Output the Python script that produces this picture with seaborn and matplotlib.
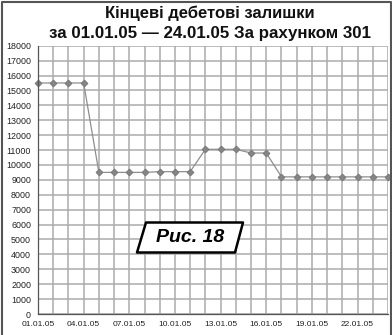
import matplotlib
matplotlib.use("Agg")
import matplotlib.pyplot as plt
from matplotlib.patches import Polygon
from matplotlib.lines import Line2D
import seaborn as sns
import pandas as pd

days = list(range(1, 25))
date_labels = [f"{d:02d}.01.05" for d in days]
balances = [15500, 15500, 15500, 15500,
            9500, 9500, 9500, 9500,
            9550, 9550, 9550,
            11050, 11050, 11050,
            10800, 10800,
            9200, 9200, 9200, 9200, 9200, 9200, 9200, 9200]
title_lines = ["Кінцеві дебетові залишки", "за 01.01.05 — 24.01.05 За рахунком 301"]
caption = "Рис. 18"

df = pd.DataFrame({"day": days, "balance": balances})

sns.set_theme(style="white")
plt.rcParams['font.family'] = ['Liberation Sans', 'DejaVu Sans']

W, H = 392, 335
fig = plt.figure(figsize=(W / 100, H / 100), dpi=100)
ax = fig.add_axes([38 / W, (H - 314) / H, (388 - 38) / W, (314 - 45.7) / H])

sns.lineplot(data=df, x="day", y="balance", ax=ax, color="#8e8e8e",
             linewidth=0.9, marker="D", markersize=3.4,
             markeredgecolor="#7a7a7a", markerfacecolor="#858585")
for l in ax.lines:
    l.set_clip_on(False)

ax.set_xlim(1, 24)
ax.set_ylim(0, 18000)
ax.set_xticks(days)
ax.set_xticklabels([lab if (i % 3 == 0) else "" for i, lab in enumerate(date_labels)],
                   fontsize=6.0, color="#222222")
ax.set_yticks(range(0, 18001, 1000))
ax.set_yticklabels([str(v) for v in range(0, 18001, 1000)], fontsize=6.4, color="#222222")
ax.tick_params(axis="both", direction="out", length=3.5, width=0.8, color="#555555", pad=1.5)
ax.tick_params(axis="x", length=3, pad=1.8)
ax.set_xlabel("")
ax.set_ylabel("")
ax.grid(True, color="#ababab", linewidth=1.1)
ax.set_axisbelow(True)
for s in ["top", "right"]:
    ax.spines[s].set_visible(False)
for s in ["left", "bottom"]:
    ax.spines[s].set_color("#555555")
    ax.spines[s].set_linewidth(0.9)

fig.text(210 / W, 1 - 13.5 / H, title_lines[0], ha="center", va="center",
         fontsize=12, fontweight="bold", color="#111111")
fig.text(210 / W, 1 - 33.5 / H, title_lines[1], ha="center", va="center",
         fontsize=12.2, fontweight="bold", color="#111111")

# figure border (left, top, right)
fig.add_artist(Line2D([1.5 / W, 1.5 / W, 1 - 1.5 / W, 1 - 1.5 / W],
                      [0, 1 - 1.5 / H, 1 - 1.5 / H, 0],
                      transform=fig.transFigure, color="#555555", linewidth=1.5))

# caption box (parallelogram)
pts = [(146, 222.5), (243, 222.5), (235, 252.5), (137, 252.5)]
poly = Polygon([(x / W, 1 - y / H) for x, y in pts], closed=True,
               transform=fig.transFigure, facecolor="white", edgecolor="black",
               linewidth=1.8, joinstyle="round", zorder=5)
fig.add_artist(poly)
fig.text(190 / W, 1 - 238 / H, caption, ha="center", va="center",
         fontsize=14, fontweight="bold", fontstyle="italic", color="black", zorder=6)

fig.savefig("out.png", dpi=100)
